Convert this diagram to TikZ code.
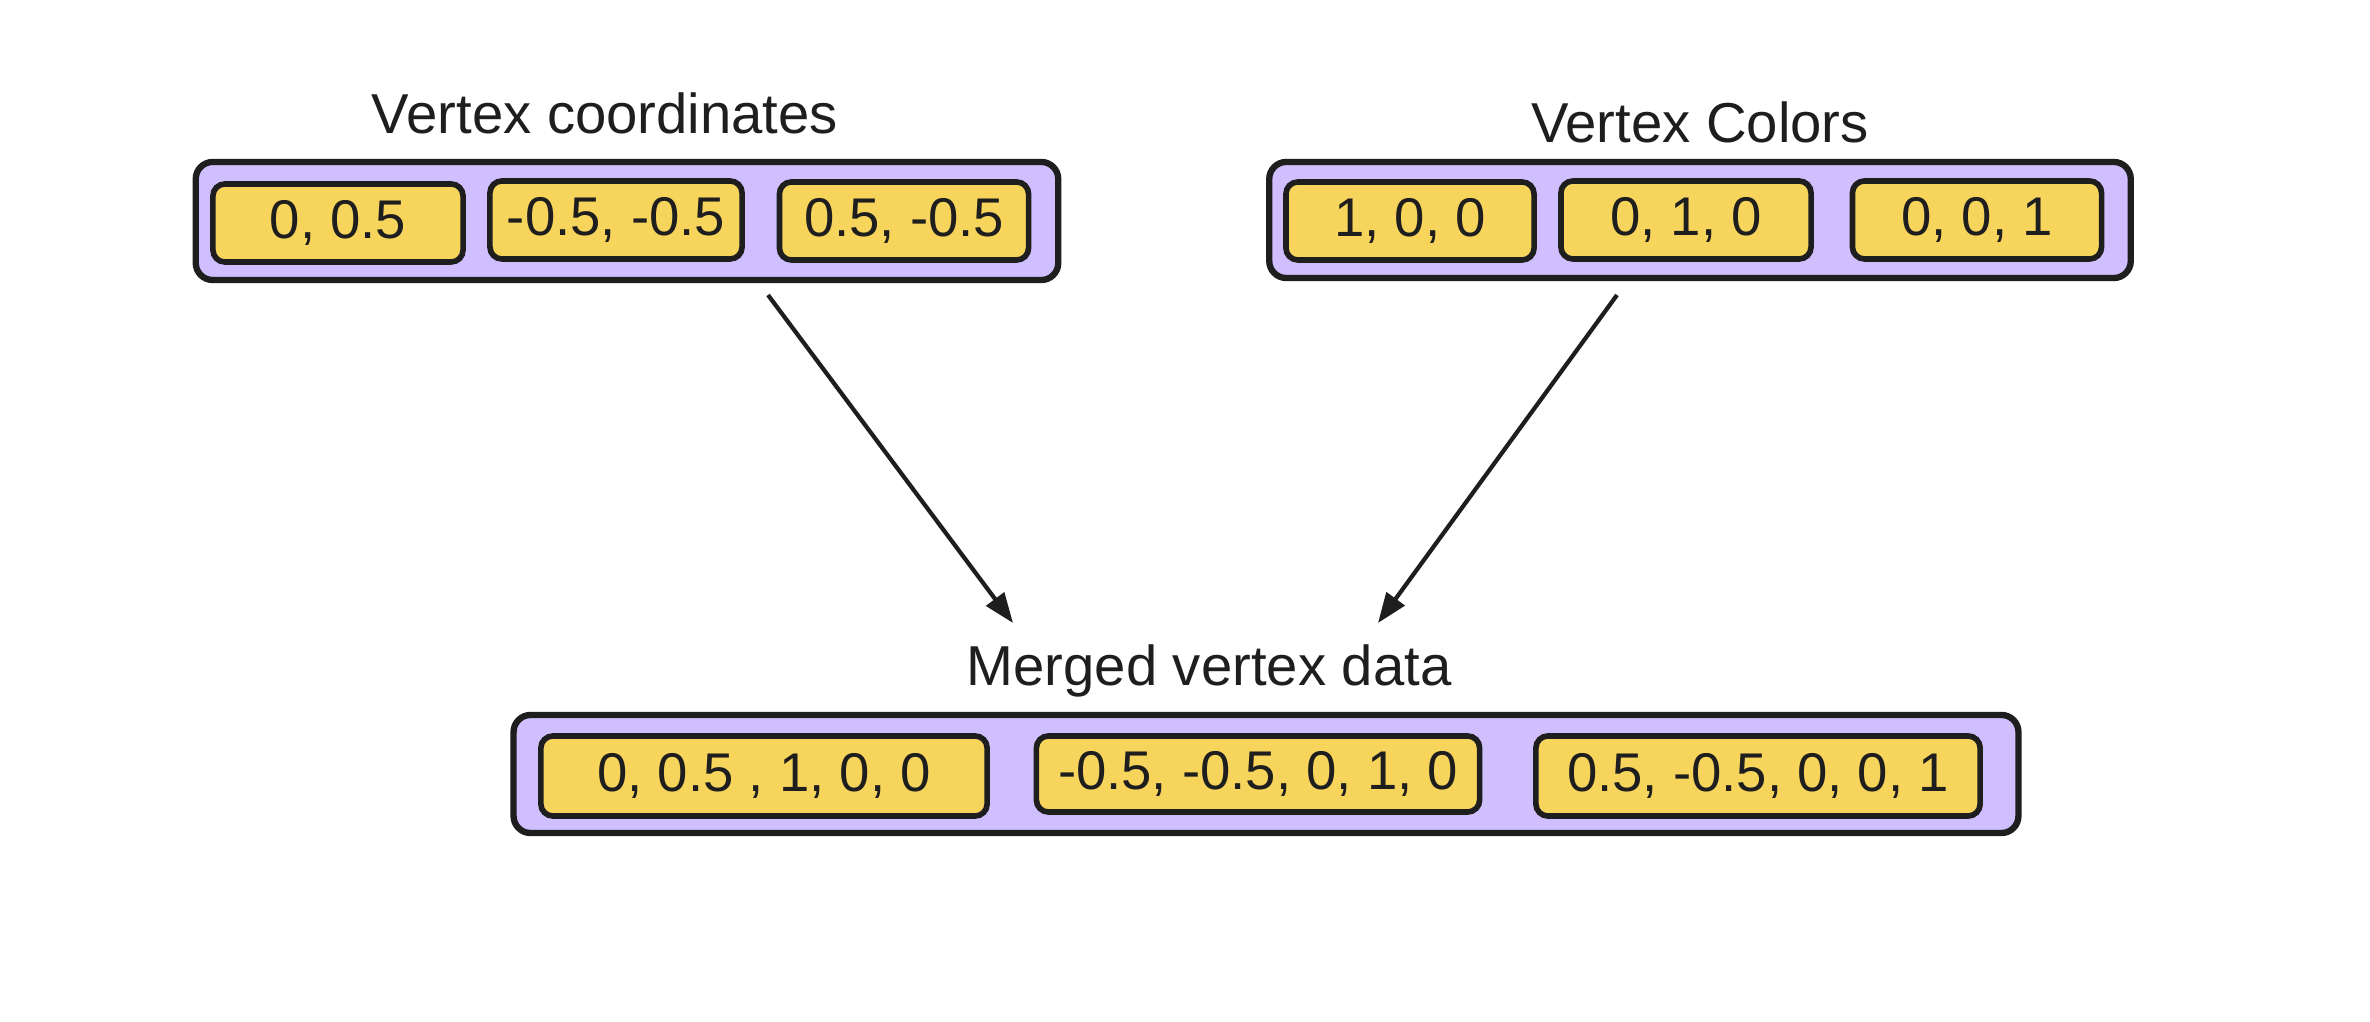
\documentclass[tikz,border=0pt]{standalone}
\usepackage{fontspec}
\setmainfont{Liberation Sans}
\usetikzlibrary{arrows.meta,positioning,fit}
\definecolor{ink}{RGB}{30,30,30}
\definecolor{lavender}{RGB}{208,191,255}
\definecolor{butter}{RGB}{247,213,92}

\begin{document}
\begin{tikzpicture}[>=Latex,x=0.01cm,y=-0.01cm,
  every node/.style={font=\fontsize{15.5}{18}\selectfont,text=ink},
  group/.style={draw=ink,line width=1.8pt,fill=lavender,rounded corners=0.17cm,inner sep=0pt},
  cell/.style={draw=ink,line width=1.6pt,fill=butter,rounded corners=0.12cm,minimum height=0.78cm,inner sep=0pt},
  title/.style={font=\fontsize{16}{19}\selectfont},
  flow/.style={->,draw=ink,line width=1.2pt,>={Triangle[length=0.3cm,width=0.22cm]}}]
  \useasboundingbox (0,0) rectangle (2370,1022);
  % Vertex coordinates
  \node[group,minimum width=8.62cm,minimum height=1.18cm] (coords) at (627,221) {};
  \node[cell,minimum width=2.50cm] (a1) at (338,223) {0, 0.5};
  \node[cell,minimum width=2.52cm] (a2) at (616,220) {-0.5, -0.5};
  \node[cell,minimum width=2.49cm] (a3) at (904,221) {0.5, -0.5};
  \node[title] (tcoords) at (605,113) {Vertex coordinates};
  % Vertex colors
  \node[group,minimum width=8.61cm,minimum height=1.16cm] (colors) at (1700,220) {};
  \node[cell,minimum width=2.48cm] (b1) at (1410,221) {1, 0, 0};
  \node[cell,minimum width=2.50cm] (b2) at (1686,220) {0, 1, 0};
  \node[cell,minimum width=2.49cm] (b3) at (1977,220) {0, 0, 1};
  \node[title] (tcolors) at (1700,122) {Vertex Colors};
  % Merged vertex data
  \node[group,minimum width=15.04cm,minimum height=1.18cm] (merged) at (1266,774) {};
  \node[cell,minimum width=4.46cm,minimum height=0.80cm] (c1) at (764,776) {0, 0.5 , 1, 0, 0};
  \node[cell,minimum width=4.43cm,minimum height=0.76cm] (c2) at (1258,774) {-0.5, -0.5, 0, 1, 0};
  \node[cell,minimum width=4.44cm,minimum height=0.80cm] (c3) at (1758,776) {0.5, -0.5, 0, 0, 1};
  \node[title] (tmerged) at (1209,671) {Merged vertex data};
  % arrows
  \coordinate (fromcoords) at (768,295);
  \coordinate (tocoords) at (1013,623);
  \coordinate (fromcolors) at (1617,295);
  \coordinate (tocolors) at (1378,623);
  \draw[flow] (fromcoords) -- (tocoords);
  \draw[flow] (fromcolors) -- (tocolors);
\end{tikzpicture}
\end{document}
